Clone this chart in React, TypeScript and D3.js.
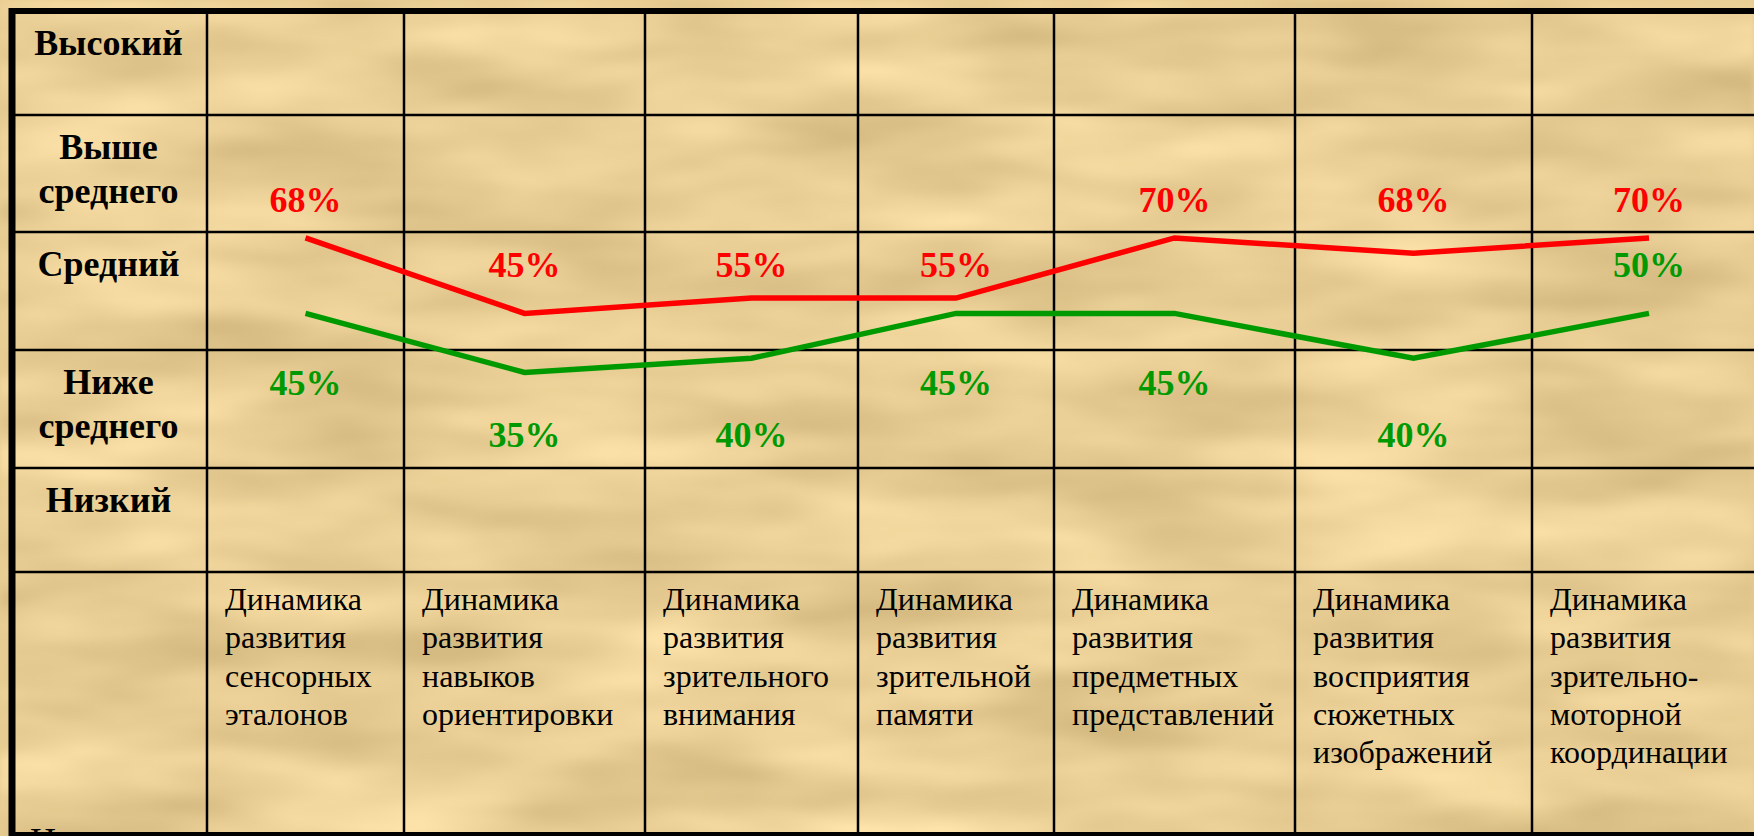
import * as d3 from "d3";

// level rows of the table, top to bottom
const levelNames: string[][] = [
  ["Высокий"],
  ["Выше", "среднего"],
  ["Средний"],
  ["Ниже", "среднего"],
  ["Низкий"],
];

const categories: string[][] = [
  ["Динамика", "развития", "сенсорных", "эталонов"],
  ["Динамика", "развития", "навыков", "ориентировки"],
  ["Динамика", "развития", "зрительного", "внимания"],
  ["Динамика", "развития", "зрительной", "памяти"],
  ["Динамика", "развития", "предметных", "представлений"],
  ["Динамика", "развития", "восприятия", "сюжетных", "изображений"],
  ["Динамика", "развития", "зрительно-", "моторной", "координации"],
];

// percentages written next to the lines
const redPercent = [68, 45, 55, 55, 70, 68, 70];
const greenPercent = [45, 35, 40, 45, 45, 40, 50];

// where each line sits, in level units (0 = bottom of "Низкий", 5 = top of "Высокий")
const redLevel = [2.95, 2.31, 2.44, 2.44, 2.95, 2.82, 2.95];
const greenLevel = [2.31, 1.81, 1.93, 2.31, 2.31, 1.93, 2.31];

// which side of the green line its label was put on
const greenLabelSide = ["below", "below", "below", "below", "below", "below", "above"];

// ---- layout ----
const W = 1754;
const H = 836;
const colEdges = [12, 207, 404, 645, 858, 1054, 1295, 1532, 1766];
const rowEdges = [572, 468, 350, 232, 115, 11]; // level 0..5
const tableBottom = 835;
const RED = "#ff0000";
const GREEN = "#009a00";
const SERIF = "'Liberation Serif', 'Times New Roman', serif";

export default function App() {
  const y = d3.scaleLinear().domain(d3.range(6)).range(rowEdges);
  const x = d3
    .scaleOrdinal<number, number>()
    .domain(d3.range(categories.length))
    .range(categories.map((_, i) => (colEdges[i + 1] + colEdges[i + 2]) / 2));

  // text slots inside each level row (two text lines per row)
  const slots: number[] = [];
  for (let r = 0; r < 5; r++) {
    const top = y(r + 1);
    slots.push(top + 45, top + 97);
  }
  slots.sort((a, b) => a - b);
  const slotAbove = (py: number) => d3.max(slots.filter((s) => s < py - 15)) as number;
  const slotBelow = (py: number) => d3.min(slots.filter((s) => s > py + 40)) as number;

  const line = d3
    .line<number>()
    .x((_, i) => x(i))
    .y((d) => y(d));

  return (
    <svg
      width={W}
      height={H}
      style={{ position: "absolute", left: 0, top: 0, display: "block" }}
      fontFamily={SERIF}
    >
      <defs>
        <filter
          id="paper"
          x="0"
          y="0"
          width="100%"
          height="100%"
          colorInterpolationFilters="sRGB"
        >
          <feTurbulence type="fractalNoise" baseFrequency="0.004 0.016" numOctaves={3} seed={7} />
          <feColorMatrix
            type="matrix"
            values="0.26 0 0 0 0.78  0.26 0 0 0 0.675  0.26 0 0 0 0.45  0 0 0 0 1"
          />
          <feGaussianBlur stdDeviation="3" />
        </filter>
      </defs>
      <rect width={W} height={H} fill="#e8cc92" />
      <rect width={W} height={H} filter="url(#paper)" />

      {/* grid */}
      <g stroke="#000" fill="none">
        {rowEdges.slice(0, 5).map((ry, i) => (
          <line key={"h" + i} x1={colEdges[0]} x2={W} y1={ry} y2={ry} strokeWidth={2.5} />
        ))}
        {colEdges.slice(1, 8).map((cx, i) => (
          <line key={"v" + i} x1={cx} x2={cx} y1={rowEdges[5]} y2={tableBottom} strokeWidth={2.5} />
        ))}
        <line x1={colEdges[0] - 3} x2={W} y1={rowEdges[5]} y2={rowEdges[5]} strokeWidth={6} />
        <line x1={colEdges[0] - 3} x2={W} y1={tableBottom} y2={tableBottom} strokeWidth={6} />
        <line x1={colEdges[0]} x2={colEdges[0]} y1={rowEdges[5] - 3} y2={H} strokeWidth={7} />
      </g>

      {/* row labels */}
      <g fontWeight="bold" fontSize={36} textAnchor="middle" fill="#000">
        {levelNames.map((lines, i) => {
          const top = y(5 - i);
          return lines.map((t, j) => (
            <text key={i + "-" + j} x={(colEdges[0] + colEdges[1]) / 2 - 1} y={top + 44 + j * 44}>
              {t}
            </text>
          ));
        })}
        <text x={30} y={853} textAnchor="start" fontWeight="normal">
          Н
        </text>
      </g>

      {/* category labels */}
      <g fontSize={32} fill="#000">
        {categories.map((lines, i) =>
          lines.map((t, j) => (
            <text key={i + "-" + j} x={colEdges[i + 1] + 18} y={610 + j * 38.3}>
              {t}
            </text>
          ))
        )}
      </g>

      {/* lines */}
      <path d={line(greenLevel) ?? ""} fill="none" stroke={GREEN} strokeWidth={5.5} />
      <path d={line(redLevel) ?? ""} fill="none" stroke={RED} strokeWidth={5.5} />

      {/* value labels */}
      <g fontWeight="bold" fontSize={36} textAnchor="middle">
        {redPercent.map((v, i) => (
          <text key={"r" + i} x={x(i)} y={slotAbove(y(redLevel[i]))} fill={RED}>
            {v}%
          </text>
        ))}
        {greenPercent.map((v, i) => (
          <text
            key={"g" + i}
            x={x(i)}
            y={
              greenLabelSide[i] === "above"
                ? slotAbove(y(greenLevel[i]))
                : slotBelow(y(greenLevel[i]))
            }
            fill={GREEN}
          >
            {v}%
          </text>
        ))}
      </g>
    </svg>
  );
}
